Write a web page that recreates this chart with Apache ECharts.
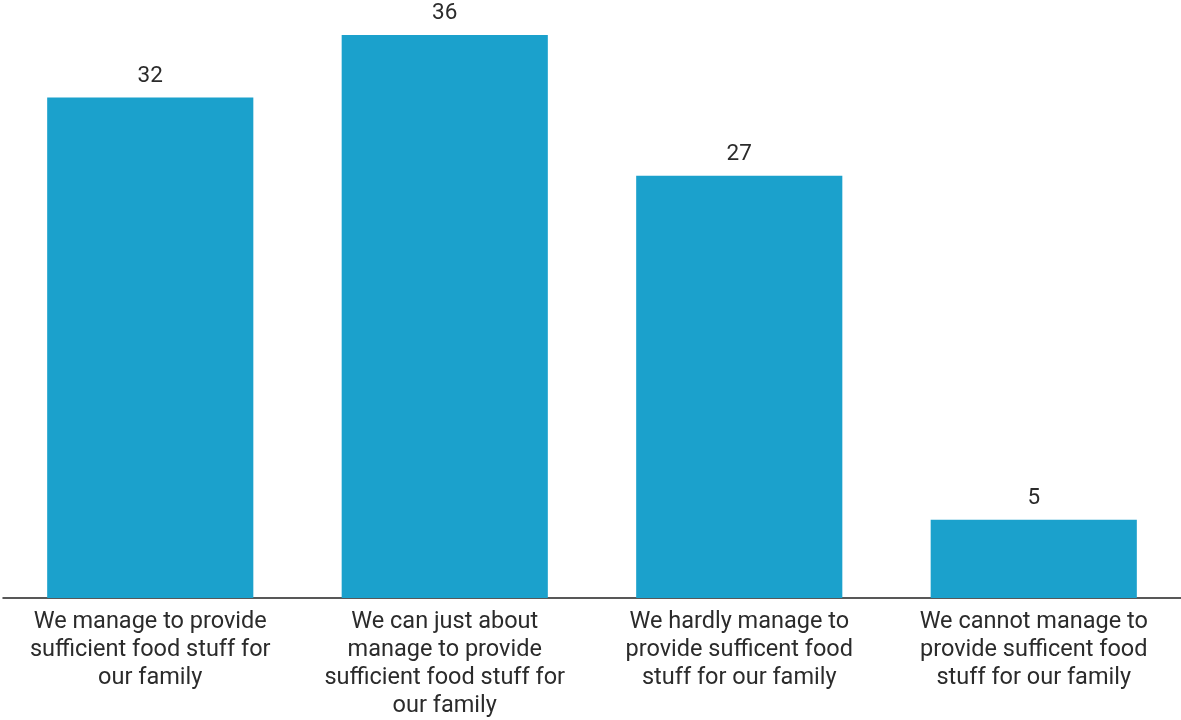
<!DOCTYPE html>
<html>
<head>
<meta charset="utf-8">
<script src="https://cdn.jsdelivr.net/npm/echarts@6/dist/echarts.min.js"></script>
<style>
html,body{margin:0;padding:0;background:#fff;}
#chart{width:1181px;height:720px;}
</style>
</head>
<body>
<div id="chart"></div>
<script>
var categories = [
  "We manage to provide\nsufficient food stuff for\nour family",
  "We can just about\nmanage to provide\nsufficient food stuff for\nour family",
  "We hardly manage to\nprovide sufficent food\nstuff for our family",
  "We cannot manage to\nprovide sufficent food\nstuff for our family"
];
var values = [32, 36, 27, 5];

var chart = echarts.init(document.getElementById('chart'));
chart.setOption({
  animation: false,
  backgroundColor: '#ffffff',
  grid: {left: 3, right: 0, top: 35, bottom: 122, containLabel: false},
  xAxis: {
    type: 'category',
    data: categories,
    axisLine: {show: true, lineStyle: {color: '#222222', width: 1.5}},
    axisTick: {show: false},
    axisLabel: {
      interval: 0,
      margin: 10,
      color: '#2b2b2b',
      fontFamily: 'Roboto',
      fontSize: 23.5,
      lineHeight: 28
    }
  },
  yAxis: {
    type: 'value',
    min: 0,
    max: 36,
    show: false,
    splitLine: {show: false}
  },
  series: [{
    type: 'bar',
    data: values,
    barWidth: '70%',
    itemStyle: {color: '#1ba1cc'},
    label: {
      show: true,
      position: 'top',
      distance: 10,
      color: '#2b2b2b',
      fontFamily: 'Roboto',
      fontSize: 22.5
    }
  }]
});
</script>
</body>
</html>
